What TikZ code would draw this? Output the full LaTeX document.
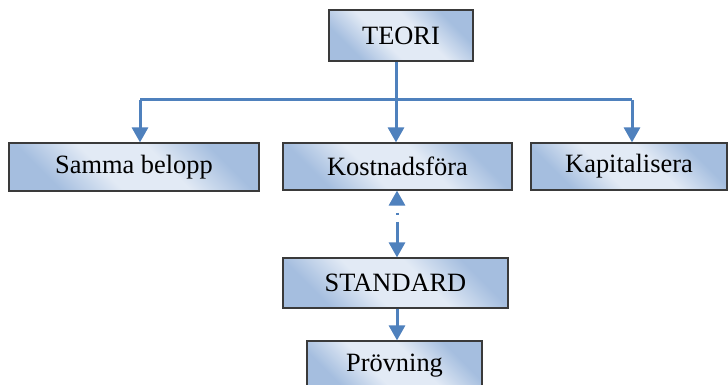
\documentclass[tikz,border=0pt]{standalone}
\usepackage{fontspec}
\setmainfont{Liberation Serif}
\usetikzlibrary{arrows.meta,calc}
\definecolor{lnblue}{HTML}{4F81BD}
\definecolor{boxlite}{HTML}{E2EAF5}
\definecolor{boxblue}{HTML}{A5BEDF}
\definecolor{boxedge}{HTML}{3A3A3A}
\pgfdeclarehorizontalshading{boxshade}{100bp}{color(0bp)=(boxblue); color(27bp)=(boxblue); color(42bp)=(boxlite); color(58bp)=(boxlite); color(73bp)=(boxblue); color(100bp)=(boxblue)}
\tikzset{
  box/.style={draw=boxedge, line width=0.6pt, inner sep=0pt,
    shading=boxshade, shading angle=45,
    font=\fontsize{13.2pt}{15pt}\selectfont, text=black},
  tip/.style={Triangle[length=7.5pt,width=8pt]},
  arr/.style={draw=lnblue, line width=1.5pt, -{Triangle[length=7.5pt,width=8pt]}},
  plain/.style={draw=lnblue, line width=1.5pt},
}
\begin{document}
\begin{tikzpicture}[x=0.5pt,y=-0.5pt]
\clip (0,0) rectangle (728,385);
\fill[white] (0,0) rectangle (728,385);
\node[box, minimum width=72pt, minimum height=25.5pt] (teori) at (401,35.5) {TEORI};
\node[box, minimum width=125pt, minimum height=24pt] (samma) at (134,167) {Samma belopp};
\node[box, minimum width=114.5pt, minimum height=23.5pt] (kost) at (397.5,166.5) {Kostnadsföra};
\node[box, minimum width=98pt, minimum height=23.5pt] (kap) at (629,166.5) {Kapitalisera};
\node[box, minimum width=112.5pt, minimum height=25pt] (std) at (395.5,283) {STANDARD};
\node[box, minimum width=87.5pt, minimum height=25pt] (prov) at (394.5,366) {Prövning};
\coordinate (lb) at (140,100);
\coordinate (rb) at (632,100);
\draw[arr] (teori.south -| 396,0) -- (kost.north -| 396,0);
\draw[plain] (lb) -- (rb);
\draw[arr] (lb) -- (lb |- samma.north);
\draw[arr] (rb) -- (rb |- kap.north);
\draw[draw=lnblue, line width=1.5pt, {Triangle[length=7.5pt,width=8pt]}-{Triangle[length=7.5pt,width=8pt]},
  dash pattern=on 0pt off 4pt on 1pt off 3.5pt on 20pt off 2pt]
  (kost.south -| 397,0) -- (std.north -| 397,0);
\draw[arr] (std.south -| 397,0) -- (prov.north -| 397,0);
\end{tikzpicture}
\end{document}
